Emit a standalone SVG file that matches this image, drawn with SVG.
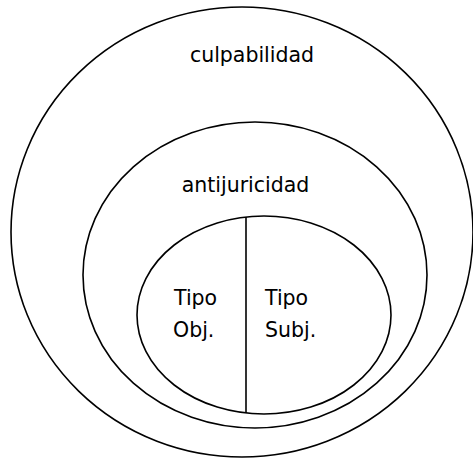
<svg xmlns="http://www.w3.org/2000/svg" width="473" height="459" viewBox="0 0 473 459">
<style>
.s{fill:none;stroke:#000;stroke-width:1.6}
.t{font-family:"DejaVu Sans","Liberation Sans",sans-serif;font-size:20.5px;fill:#000}
</style>
<rect width="473" height="459" fill="#fff"/>
<g id="culpabilidad">
<ellipse class="s" cx="242" cy="232" rx="231" ry="225"/>
<text class="t" x="252" y="62" text-anchor="middle">culpabilidad</text>
</g>
<g id="antijuricidad">
<ellipse class="s" cx="255" cy="275" rx="172" ry="153"/>
<text class="t" x="245.5" y="192" text-anchor="middle">antijuricidad</text>
</g>
<g id="tipo">
<ellipse class="s" cx="264" cy="315" rx="127" ry="99"/>
</g>
<g id="connectors">
<line class="s" x1="246" y1="217" x2="246" y2="413"/>
</g>
<g id="tipo-obj">
<text class="t" x="174" y="305">Tipo</text>
<text class="t" x="173" y="337">Obj.</text>
</g>
<g id="tipo-subj">
<text class="t" x="265" y="305">Tipo</text>
<text class="t" x="265" y="337">Subj.</text>
</g>
</svg>
